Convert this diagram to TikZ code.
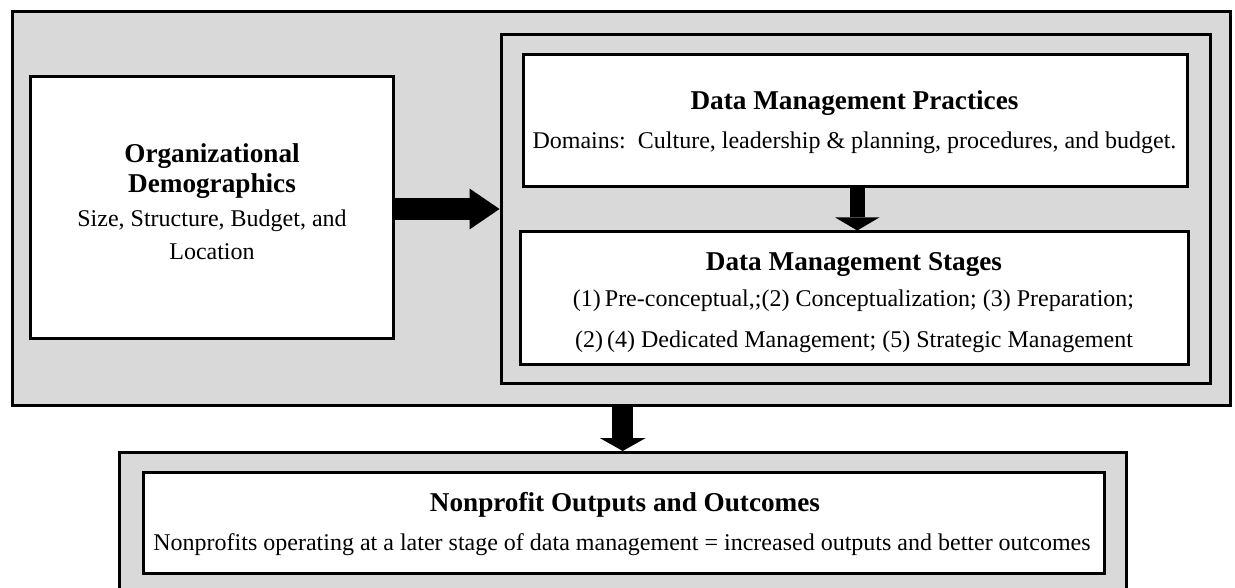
\documentclass[tikz,border=0pt]{standalone}
\usepackage{fontspec}
\setmainfont{Liberation Serif}
\usetikzlibrary{arrows.meta}
\definecolor{panelgray}{HTML}{D9D9D9}
\begin{document}
\begin{tikzpicture}[x=1pt,y=-1pt,
  panel/.style={draw=black, fill=panelgray, line width=3pt, inner sep=0pt},
  whitebox/.style={draw=black, fill=white, line width=3pt, inner sep=0pt},
  ttl/.style={anchor=base, font=\bfseries\fontsize{27.2}{30}\selectfont, inner sep=0pt},
  txt/.style={anchor=base, font=\fontsize{24}{28}\selectfont, inner sep=0pt}
]
\useasboundingbox (0,0) rectangle (1235,588);
\fill[white] (0,0) rectangle (1235,588);
\clip (0,0) rectangle (1235,588);

% boxes
\node[panel, minimum width=1217.5pt, minimum height=394pt] (outer) at (621.25,208.5) {};
\node[whitebox, minimum width=363pt, minimum height=261.5pt] (demo) at (212,207.75) {};
\node[panel, minimum width=709pt, minimum height=348pt] (inner) at (855.5,209) {};
\node[whitebox, minimum width=664.5pt, minimum height=131.5pt] (practices) at (855.25,120.75) {};
\node[whitebox, minimum width=668.5pt, minimum height=132.5pt] (stages) at (854.25,298.25) {};
\node[panel, minimum width=1007.5pt, minimum height=187.5pt] (bgray) at (622.75,546.25) {};
\node[whitebox, minimum width=961pt, minimum height=101pt] (bwhite) at (624,523) {};

% arrows
\draw[line width=22pt, -{Triangle[length=30pt,width=41pt,line width=0pt]}]
  (demo.east |- inner.west) -- (inner.west);
\draw[line width=15pt, -{Triangle[length=13pt,width=44pt,line width=0pt]}]
  ([xshift=2pt]practices.south) -- ([xshift=2pt]practices.south |- stages.north);
\draw[line width=21pt, -{Triangle[length=13pt,width=46pt,line width=0pt]}]
  (outer.south -| bgray.north) -- (bgray.north);

% texts
\node[ttl] (orgA) at (212,163) {Organizational};
\node[ttl] (orgB) at (212,193) {Demographics};
\node[txt] (orgC) at (212,227) {Size, Structure, Budget, and};
\node[txt] (orgD) at (212,260) {Location};

\node[ttl] (pracT) at (854.5,110) {Data Management Practices};
\node[txt] (pracD) at (854.5,149) {Domains:\ \ Culture, leadership \& planning, procedures, and budget.};

\node[ttl] (stT) at (854,271) {Data Management Stages};
\node[txt] (stA) at (853.5,307) {(1)\,Pre-conceptual,;(2) Conceptualization; (3) Preparation;};
\node[txt] (stB) at (854,347) {(2)\,(4) Dedicated Management; (5) Strategic Management};

\node[ttl] (outT) at (625,511) {Nonprofit Outputs and Outcomes};
\node[txt] (outD) at (622,550) {Nonprofits operating at a later stage of data management = increased outputs and better outcomes};
\end{tikzpicture}
\end{document}
